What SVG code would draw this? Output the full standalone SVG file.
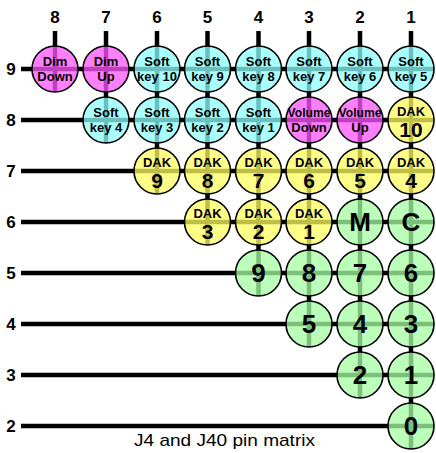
<svg xmlns="http://www.w3.org/2000/svg" width="436" height="453" viewBox="0 0 436 453">
<style>
text{font-family:"Liberation Sans",Arial,sans-serif;font-weight:bold;text-anchor:middle;fill:#000}
.wire{stroke:#000;stroke-width:4.5;fill:none}
.n{stroke:#000;stroke-width:1.6;fill-opacity:0.75}
.mg{fill:#ff55ff}.cy{fill:#8dffff}.ye{fill:#ffff60}.gr{fill:#a4ffa4}
.s{font-size:13px}.d{font-size:21px}.b{font-size:26px}.lbl{font-size:17px}
.cap{font-weight:normal;font-size:17px}
</style>
<rect width="436" height="453" fill="#fff"/>
<g id="labels">
<text class="lbl" x="55" y="23">8</text><text class="lbl" x="106" y="23">7</text><text class="lbl" x="157" y="23">6</text><text class="lbl" x="207.5" y="23">5</text><text class="lbl" x="258.5" y="23">4</text><text class="lbl" x="309" y="23">3</text><text class="lbl" x="360" y="23">2</text><text class="lbl" x="411" y="23">1</text>
<text class="lbl" x="11" y="75">9</text><text class="lbl" x="11" y="126">8</text><text class="lbl" x="11" y="177">7</text><text class="lbl" x="11" y="228">6</text><text class="lbl" x="11" y="279">5</text><text class="lbl" x="11" y="330">4</text><text class="lbl" x="11" y="381">3</text><text class="lbl" x="11" y="432">2</text>
</g>
<g id="connectors">
<line class="wire" x1="21" y1="69" x2="434" y2="69"/>
<line class="wire" x1="21" y1="120" x2="434" y2="120"/>
<line class="wire" x1="21" y1="171" x2="434" y2="171"/>
<line class="wire" x1="21" y1="222" x2="434" y2="222"/>
<line class="wire" x1="21" y1="273" x2="434" y2="273"/>
<line class="wire" x1="21" y1="324" x2="434" y2="324"/>
<line class="wire" x1="21" y1="375" x2="434" y2="375"/>
<line class="wire" x1="21" y1="426" x2="434" y2="426"/>
<line class="wire" x1="55" y1="31" x2="55" y2="92"/>
<line class="wire" x1="106" y1="31" x2="106" y2="143"/>
<line class="wire" x1="157" y1="31" x2="157" y2="194"/>
<line class="wire" x1="207.5" y1="31" x2="207.5" y2="245"/>
<line class="wire" x1="258.5" y1="31" x2="258.5" y2="296"/>
<line class="wire" x1="309" y1="31" x2="309" y2="347"/>
<line class="wire" x1="360" y1="31" x2="360" y2="398"/>
<line class="wire" x1="411" y1="31" x2="411" y2="449"/>
</g>
<g id="dim-down"><circle class="n mg" cx="55" cy="69" r="23"/><text class="s" x="55" y="66">Dim</text><text class="s" x="55" y="81">Down</text></g>
<g id="dim-up"><circle class="n mg" cx="106" cy="69" r="23"/><text class="s" x="106" y="66">Dim</text><text class="s" x="106" y="81">Up</text></g>
<g id="softkey-10"><circle class="n cy" cx="157" cy="69" r="23"/><text class="s" x="157" y="66">Soft</text><text class="s" x="157" y="81">key 10</text></g>
<g id="softkey-9"><circle class="n cy" cx="207.5" cy="69" r="23"/><text class="s" x="207.5" y="66">Soft</text><text class="s" x="207.5" y="81">key 9</text></g>
<g id="softkey-8"><circle class="n cy" cx="258.5" cy="69" r="23"/><text class="s" x="258.5" y="66">Soft</text><text class="s" x="258.5" y="81">key 8</text></g>
<g id="softkey-7"><circle class="n cy" cx="309" cy="69" r="23"/><text class="s" x="309" y="66">Soft</text><text class="s" x="309" y="81">key 7</text></g>
<g id="softkey-6"><circle class="n cy" cx="360" cy="69" r="23"/><text class="s" x="360" y="66">Soft</text><text class="s" x="360" y="81">key 6</text></g>
<g id="softkey-5"><circle class="n cy" cx="411" cy="69" r="23"/><text class="s" x="411" y="66">Soft</text><text class="s" x="411" y="81">key 5</text></g>
<g id="softkey-4"><circle class="n cy" cx="106" cy="120" r="23"/><text class="s" x="106" y="117">Soft</text><text class="s" x="106" y="132">key 4</text></g>
<g id="softkey-3"><circle class="n cy" cx="157" cy="120" r="23"/><text class="s" x="157" y="117">Soft</text><text class="s" x="157" y="132">key 3</text></g>
<g id="softkey-2"><circle class="n cy" cx="207.5" cy="120" r="23"/><text class="s" x="207.5" y="117">Soft</text><text class="s" x="207.5" y="132">key 2</text></g>
<g id="softkey-1"><circle class="n cy" cx="258.5" cy="120" r="23"/><text class="s" x="258.5" y="117">Soft</text><text class="s" x="258.5" y="132">key 1</text></g>
<g id="volume-down"><circle class="n mg" cx="309" cy="120" r="23"/><text class="s" x="309" y="117" textLength="43" lengthAdjust="spacingAndGlyphs">Volume</text><text class="s" x="309" y="132">Down</text></g>
<g id="volume-up"><circle class="n mg" cx="360" cy="120" r="23"/><text class="s" x="360" y="117" textLength="43" lengthAdjust="spacingAndGlyphs">Volume</text><text class="s" x="360" y="132">Up</text></g>
<g id="dak-10"><circle class="n ye" cx="411" cy="120" r="23"/><text class="s" x="411" y="116">DAK</text><text class="d" x="411" y="137">10</text></g>
<g id="dak-9"><circle class="n ye" cx="157" cy="171" r="23"/><text class="s" x="157" y="167">DAK</text><text class="d" x="157" y="188">9</text></g>
<g id="dak-8"><circle class="n ye" cx="207.5" cy="171" r="23"/><text class="s" x="207.5" y="167">DAK</text><text class="d" x="207.5" y="188">8</text></g>
<g id="dak-7"><circle class="n ye" cx="258.5" cy="171" r="23"/><text class="s" x="258.5" y="167">DAK</text><text class="d" x="258.5" y="188">7</text></g>
<g id="dak-6"><circle class="n ye" cx="309" cy="171" r="23"/><text class="s" x="309" y="167">DAK</text><text class="d" x="309" y="188">6</text></g>
<g id="dak-5"><circle class="n ye" cx="360" cy="171" r="23"/><text class="s" x="360" y="167">DAK</text><text class="d" x="360" y="188">5</text></g>
<g id="dak-4"><circle class="n ye" cx="411" cy="171" r="23"/><text class="s" x="411" y="167">DAK</text><text class="d" x="411" y="188">4</text></g>
<g id="dak-3"><circle class="n ye" cx="207.5" cy="222" r="23"/><text class="s" x="207.5" y="218">DAK</text><text class="d" x="207.5" y="239">3</text></g>
<g id="dak-2"><circle class="n ye" cx="258.5" cy="222" r="23"/><text class="s" x="258.5" y="218">DAK</text><text class="d" x="258.5" y="239">2</text></g>
<g id="dak-1"><circle class="n ye" cx="309" cy="222" r="23"/><text class="s" x="309" y="218">DAK</text><text class="d" x="309" y="239">1</text></g>
<g id="key-M"><circle class="n gr" cx="360" cy="222" r="23"/><text class="b" x="360" y="231">M</text></g>
<g id="key-C"><circle class="n gr" cx="411" cy="222" r="23"/><text class="b" x="411" y="231">C</text></g>
<g id="key-9"><circle class="n gr" cx="258.5" cy="273" r="23"/><text class="b" x="258.5" y="282">9</text></g>
<g id="key-8"><circle class="n gr" cx="309" cy="273" r="23"/><text class="b" x="309" y="282">8</text></g>
<g id="key-7"><circle class="n gr" cx="360" cy="273" r="23"/><text class="b" x="360" y="282">7</text></g>
<g id="key-6"><circle class="n gr" cx="411" cy="273" r="23"/><text class="b" x="411" y="282">6</text></g>
<g id="key-5"><circle class="n gr" cx="309" cy="324" r="23"/><text class="b" x="309" y="333">5</text></g>
<g id="key-4"><circle class="n gr" cx="360" cy="324" r="23"/><text class="b" x="360" y="333">4</text></g>
<g id="key-3"><circle class="n gr" cx="411" cy="324" r="23"/><text class="b" x="411" y="333">3</text></g>
<g id="key-2"><circle class="n gr" cx="360" cy="375" r="23"/><text class="b" x="360" y="384">2</text></g>
<g id="key-1"><circle class="n gr" cx="411" cy="375" r="23"/><text class="b" x="411" y="384">1</text></g>
<g id="key-0"><circle class="n gr" cx="411" cy="426" r="23"/><text class="b" x="411" y="435">0</text></g>
<text class="cap" x="134" y="446" style="text-anchor:start" textLength="181" lengthAdjust="spacingAndGlyphs">J4 and J40 pin matrix</text>
</svg>
